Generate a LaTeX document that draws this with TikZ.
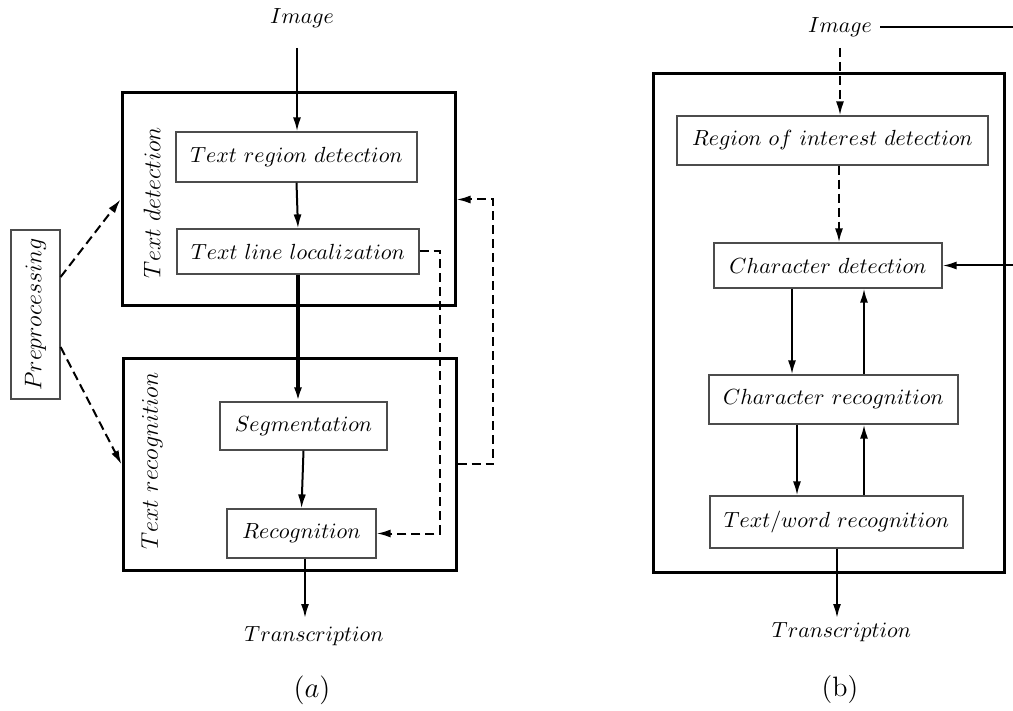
\documentclass[tikz,border=0pt]{standalone}
\usetikzlibrary{arrows.meta}
\begin{document}
\begin{tikzpicture}[x=0.5pt,y=-0.5pt,
  font=\fontsize{11}{13}\selectfont,
  box/.style={draw=black!70, line width=0.6pt, inner sep=0pt},
  outer/.style={draw=black, line width=1.5pt, inner sep=0pt},
  arr/.style={line width=1pt, -{Latex[length=7pt,width=4pt]}},
  thickarr/.style={line width=1.6pt, -{Latex[length=7pt,width=4pt]}},
  darr/.style={arr, dash pattern=on 4.5pt off 2.5pt},
  lbl/.style={inner sep=1pt}]
\useasboundingbox (0,0) rectangle (1013,711);

% ---------------- (a) ----------------
\node[outer, minimum width=166.5pt, minimum height=106.5pt] (td) at (288.5,199.5) {};
\node[outer, minimum width=166.5pt, minimum height=105.5pt] (tr) at (289.5,464.5) {};
\node[lbl, rotate=90, font=\fontsize{11.5}{13}\selectfont] (tdl) at (152,203) {$Text\ detection$};
\node[lbl, rotate=90, font=\fontsize{11.5}{13}\selectfont] (trl) at (152,461) {$Text\ recognition$};

\node[lbl] (imga) at (302,18) {$Image$};
\coordinate (ia) at (297,48);
\node[box, minimum width=120.5pt, minimum height=25pt] (trd) at (296.5,157) {$Text\ region\ detection$};
\node[box, minimum width=121pt, minimum height=22.5pt] (tll) at (298,251.5) {$Text\ line\ localization$};
\node[box, minimum width=83.5pt, minimum height=24pt] (seg) at (303.5,426) {$Segmentation$};
\node[box, minimum width=74.5pt, minimum height=24.5pt] (rec) at (301.5,533.5) {$Recognition$};
\node[lbl] (tra) at (314,636) {$Transcription$};
\node[lbl, font=\fontsize{15.5}{18}\selectfont] (capa) at (312,690) {$(a)$};
\coordinate (ta) at (305,618);

\node[box, minimum width=24.5pt, minimum height=84.5pt] (prep) at (35.5,314.5) {};
\node[lbl, rotate=90, font=\fontsize{11.5}{13}\selectfont] (prepl) at (prep) {$Preprocessing$};

\coordinate (c1) at (440,0);
\coordinate (c2) at (493,0);

\draw[arr] (ia) -- (ia |- trd.north);
\draw[arr] (trd.south) -- (tll.north);
\draw[thickarr] (tll.south) -- (tll.south |- seg.north);
\draw[arr] (seg.south) -- (rec.north);
\draw[arr] (ta |- rec.south) -- (ta);

\draw[darr] ([yshift=18.75pt]prep.east) -- (td.west);
\draw[darr] ([yshift=-16.25pt]prep.east) -- (tr.west);
\draw[darr] (tll.east) -- (tll.east -| c1) -- (c1 |- rec.east) -- (rec.east);
\draw[darr] (tr.east) -- (tr.east -| c2) -- (c2 |- td.east) -- (td.east);

% ---------------- (b) ----------------
\node[outer, minimum width=175.5pt, minimum height=249pt] (bb) at (828.5,323) {};
\node[lbl] (imgb) at (840,27) {$Image$};
\coordinate (ibe) at (1013,27);
\coordinate (ib2) at (840,48);
\node[box, minimum width=155.5pt, minimum height=24.5pt] (roi) at (832.5,140.5) {$Region\ of\ interest\ detection$};
\node[box, minimum width=114pt, minimum height=22.5pt] (cd) at (828,265.5) {$Character\ detection$};
\node[box, minimum width=124.5pt, minimum height=24.5pt] (cr) at (833.5,399.5) {$Character\ recognition$};
\node[box, minimum width=126.5pt, minimum height=26pt] (twr) at (836.5,522) {$Text/word\ recognition$};
\node[lbl] (trb) at (841.5,632) {$Transcription$};
\node[lbl, font=\fontsize{14}{17}\selectfont] (capb) at (840,690) {(b)};
\coordinate (cdin) at (1013,265.5);
\coordinate (tb) at (837,618);
\coordinate (xd1) at (792,0);
\coordinate (xd2) at (797,0);
\coordinate (xu) at (864,0);
\coordinate (xr) at (839,0);

\draw[line width=1pt, shorten <=3pt] (imgb.east) -- (ibe);
\draw[darr] (ib2) -- (ib2 |- roi.north);
\draw[darr] (xr |- roi.south) -- (xr |- cd.north);
\draw[arr] (cdin) -- (cd.east);
\draw[arr] (xd1 |- cd.south) -- (xd1 |- cr.north);
\draw[arr] (xu |- cr.north) -- (xu |- cd.south);
\draw[arr] (xd2 |- cr.south) -- (xd2 |- twr.north);
\draw[arr] (xu |- twr.north) -- (xu |- cr.south);
\draw[arr] (tb |- twr.south) -- (tb);
\end{tikzpicture}
\end{document}
